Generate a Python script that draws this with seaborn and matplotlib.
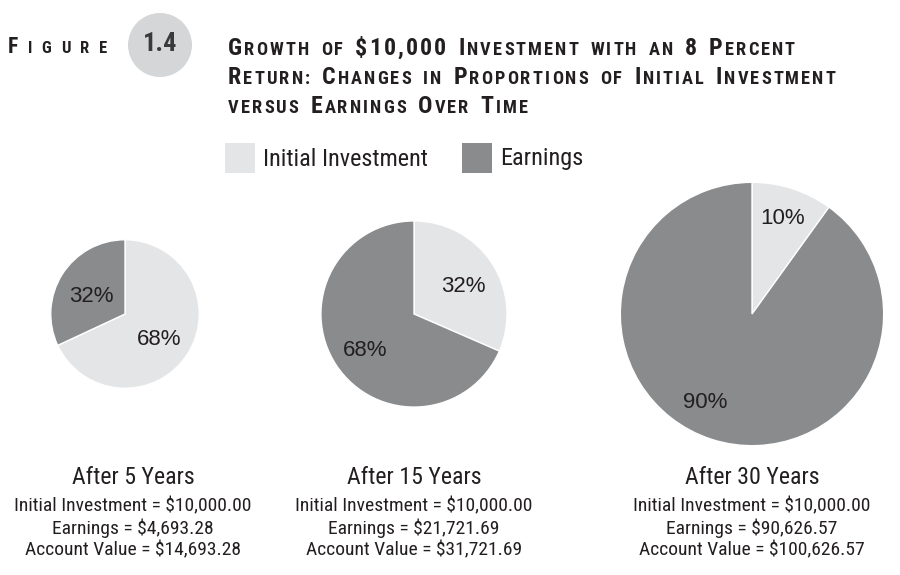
import matplotlib
matplotlib.use("Agg")
import matplotlib.pyplot as plt
import seaborn as sns

# data
periods = ["After 5 Years", "After 15 Years", "After 30 Years"]
initial = [10000.00, 10000.00, 10000.00]
earnings = [4693.28, 21721.69, 90626.57]
account = [14693.28, 31721.69, 100626.57]
series = ["Initial Investment", "Earnings"]

sns.set_theme(style="white")
narrow = ["Roboto Condensed", "Liberation Sans Narrow", "Roboto", "DejaVu Sans"]
plt.rcParams["font.family"] = narrow

light, dark = "#e4e5e7", "#898b8d"
ink = "#231f20"

W, H = 900, 575
fig = plt.figure(figsize=(9, 5.75), dpi=100)
bg = fig.add_axes([0, 0, 1, 1])
bg.set_xlim(0, W)
bg.set_ylim(H, 0)
bg.axis("off")
renderer = fig.canvas.get_renderer()

# pie layout (pixel centres / radii)
centres = [(125, 314), (414, 314), (752, 314)]
radii = [75, 94, 133]
pctdist = [0.54, 0.63, 0.76]

for i in range(3):
    cx, cy = centres[i]
    r = radii[i]
    ax = fig.add_axes([(cx - r) / W, 1 - (cy + r) / H, 2 * r / W, 2 * r / H])
    wedges, texts, autotexts = ax.pie(
        [initial[i], earnings[i]], colors=[light, dark], startangle=90,
        counterclock=False, autopct="%.0f%%", pctdistance=pctdist[i], radius=1,
        textprops=dict(color=ink, fontsize=16, family=["Liberation Sans", "DejaVu Sans"]))
    if i < 2:
        for t in autotexts:
            px, py = t.get_position()
            t.set_position((px, py - 0.05))
    else:
        # big pie: the 90% label sits a little further round
        px, py = autotexts[1].get_position()
        autotexts[1].set_position((px - 0.12, py + 0.05))
    ax.set_xlim(-1.01, 1.01)
    ax.set_ylim(-1.01, 1.01)
    ax.axis("off")

    # captions
    bx = [133, 414, 752][i]
    bg.text(bx, 477, periods[i], ha="center", va="center", fontsize=17.2, color=ink)
    lines = [f"Initial Investment = ${initial[i]:,.2f}",
             f"Earnings = ${earnings[i]:,.2f}",
             f"Account Value = ${account[i]:,.2f}"]
    for j, s in enumerate(lines):
        bg.text(bx, 506 + 22 * j, s, ha="center", va="center", fontsize=14, color=ink)

# legend
for k, (lx, col) in enumerate([(225, light), (462, dark)]):
    bg.add_patch(plt.Rectangle((lx, 143), 30, 30, color=col, lw=0))
    bg.text(lx + 38, 159, series[k], ha="left", va="center", fontsize=17.5, color=ink)

# figure badge
bg.add_patch(plt.Circle((160, 45), 32, color="#d5d6d8", lw=0))
bg.text(160, 44, "1.4", ha="center", va="center", fontsize=19, color="#3a3a3c",
        fontweight="bold")


def width_of(t):
    return t.get_window_extent(renderer).width


def small_caps(x, y, words, big=17.2, small=13.2, word_gap=10, track=2.1):
    # small-caps look: capitals and figures big, lower case as small capitals
    for w in words:
        for ch in w:
            fs = small if ch.islower() or ch == ":" else big
            t = bg.text(x, y, ch.upper(), fontsize=fs, fontweight="bold", color=ink,
                        va="baseline", ha="left")
            x += width_of(t) + track
        x += word_gap


small_caps(8, 53, ["Figure"], big=15.5, small=12, word_gap=0, track=9.5)
small_caps(228, 55, ["Growth", "of", "$10,000", "Investment", "with", "an", "8", "Percent"])
small_caps(228, 84, ["Return:", "Changes", "in", "Proportions", "of", "Initial", "Investment"])
small_caps(228, 113, ["versus", "Earnings", "Over", "Time"])

fig.savefig("out.png", dpi=100, facecolor="white")
